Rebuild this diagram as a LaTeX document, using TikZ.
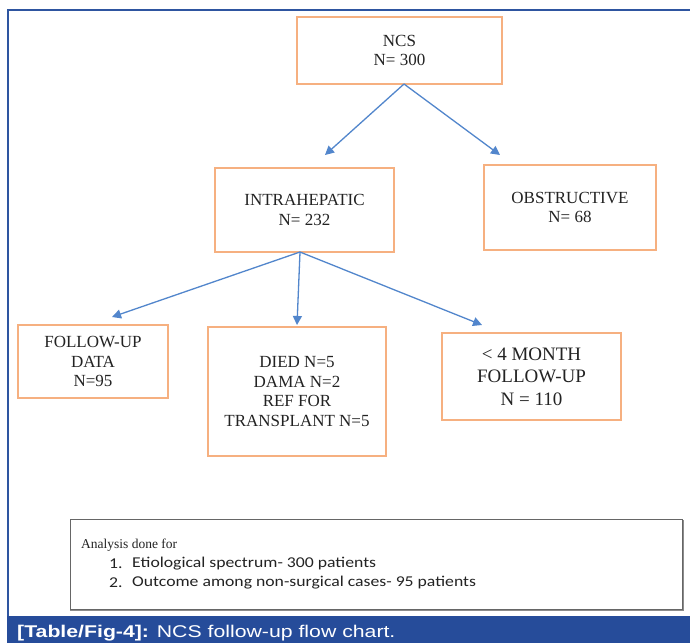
\documentclass[tikz,border=0pt]{standalone}
\usepackage{fontspec}
\setmainfont{Liberation Serif}
\newfontfamily\calib[FakeStretch=1.18]{Carlito}
\newfontfamily\capfont[FakeStretch=1.25]{Liberation Sans}
\usetikzlibrary{arrows.meta}
\definecolor{boxorange}{RGB}{246,176,128}
\definecolor{arrowblue}{RGB}{82,134,204}
\definecolor{frameblue}{RGB}{46,85,160}
\definecolor{barblue}{RGB}{38,76,154}
\definecolor{txt}{RGB}{35,35,35}
\begin{document}
\begin{tikzpicture}[x=1pt,y=-1pt,
  flowbox/.style={draw=boxorange,line width=1.4pt,fill=white,align=center,
    inner sep=0pt,text=txt,font=\fontsize{17}{19.5}\selectfont},
  conn/.style={draw=arrowblue,line width=1.3pt,-{Triangle[length=9pt,width=9pt]}}]
\useasboundingbox (0,0) rectangle (690,643);
\fill[white] (0,0) rectangle (690,643);
% outer frame
\draw[frameblue,line width=2pt] (7.5,616) -- (7.5,9.5) -- (692,9.5);
% caption bar
\fill[barblue] (6.5,616) rectangle (690,643);
\node[anchor=base west,inner sep=0pt,text=white,font=\capfont\fontsize{17}{19}\selectfont] (cap) at (17,637) {\textbf{[Table/Fig-4]:} NCS follow-up flow chart.};
% boxes
\node[flowbox,minimum width=205pt,minimum height=67pt] (ncs) at (399.5,50.5) {NCS\\N= 300};
\node[flowbox,minimum width=179pt,minimum height=84pt] (intra) at (304.5,210) {INTRAHEPATIC\\N= 232};
\node[flowbox,minimum width=172pt,minimum height=85pt] (obst) at (570,207.5) {OBSTRUCTIVE\\N= 68};
\node[flowbox,minimum width=150pt,minimum height=73pt] (fu) at (93,361.5) {FOLLOW-UP\\DATA\\N=95};
\node[flowbox,minimum width=178pt,minimum height=129pt] (died) at (297,391.5) {DIED N=5\\DAMA N=2\\REF FOR\\TRANSPLANT N=5};
\node[flowbox,minimum width=179pt,minimum height=87pt,font=\fontsize{19}{22.5}\selectfont] (mon) at (531.5,376.5) {< 4 MONTH\\FOLLOW-UP\\N = 110};
% connectors
\coordinate (ncsb) at (404,84);
\coordinate (intraT) at (325,155);
\coordinate (obstT) at (500,155);
\coordinate (intrab) at (300,252);
\coordinate (fuT) at (112,317);
\coordinate (diedT) at (297,325);
\coordinate (monT) at (482,325);
\draw[conn] (ncsb) -- (intraT);
\draw[conn] (ncsb) -- (obstT);
\draw[conn] (intrab) -- (fuT);
\draw[conn] (intrab) -- (diedT);
\draw[conn] (intrab) -- (monT);
% analysis box
\draw[draw=black!45,line width=2.6pt] (71,520) -- (71,610) -- (683,610) -- (683,520);
\node[draw=black!60,line width=1pt,fill=white,minimum width=612pt,minimum height=90pt,inner sep=0pt] (ana) at (376.5,564.5) {};
\node[anchor=west,inner sep=0pt,text=txt,font=\fontsize{13.5}{15}\selectfont] (anat) at (81,545) {Analysis done for};
\node[anchor=west,inner sep=0pt,text=txt,font=\calib\fontsize{15}{18}\selectfont] (n1) at (109,564) {1.};
\node[anchor=west,inner sep=0pt,text=txt,font=\calib\fontsize{15}{18}\selectfont] (i1) at (132,564) {Etiological spectrum- 300 patients};
\node[anchor=west,inner sep=0pt,text=txt,font=\calib\fontsize{15}{18}\selectfont] (n2) at (109,583) {2.};
\node[anchor=west,inner sep=0pt,text=txt,font=\calib\fontsize{15}{18}\selectfont] (i2) at (132,583) {Outcome among non-surgical cases- 95 patients};
\end{tikzpicture}
\end{document}
